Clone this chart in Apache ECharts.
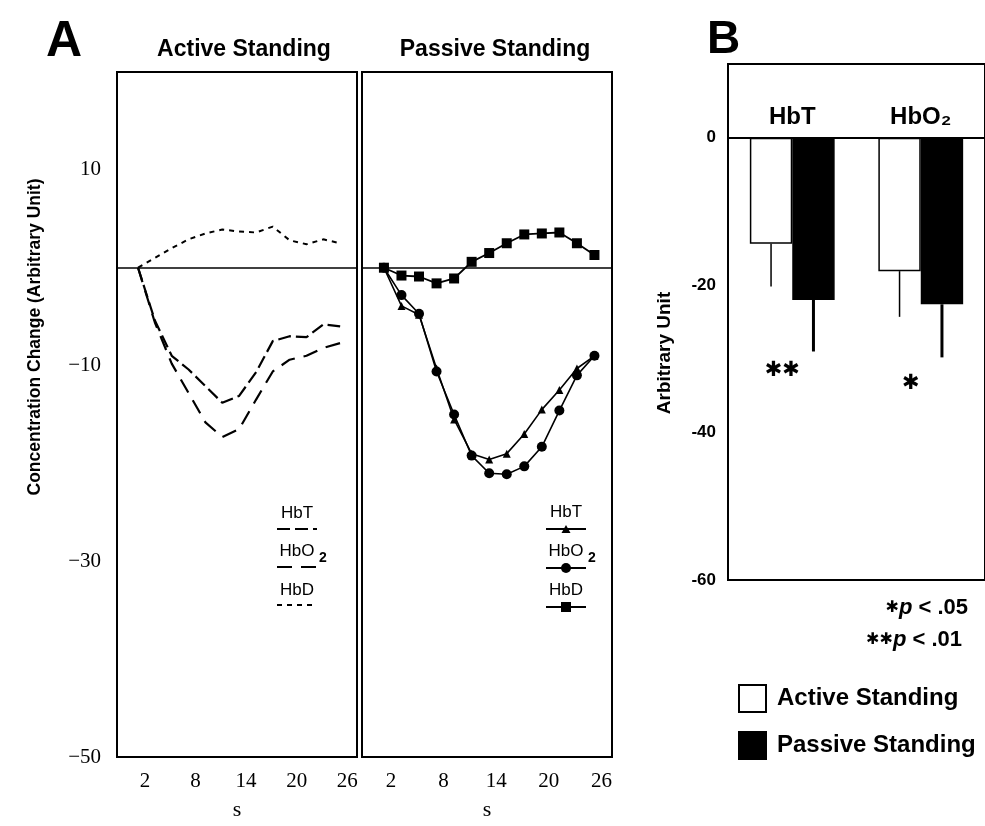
<!DOCTYPE html>
<html><head><meta charset="utf-8">
<script src="https://cdn.jsdelivr.net/npm/echarts@6/dist/echarts.min.js"></script>
<style>html,body{margin:0;padding:0;background:#fff}#c{width:985px;height:826px}</style>
</head><body><div id="c"></div>
<script>
// ---- data ----
const timeS = [2, 4, 6, 8, 10, 12, 14, 16, 18, 20, 22, 24, 26];
const activeHbT  = [0, -5.4, -9.0, -10.4, -12.1, -13.8, -13.1, -10.7, -7.5, -7.0, -7.1, -5.8, -6.0];
const activeHbO2 = [0, -5.6, -9.8, -12.8, -15.8, -17.3, -16.5, -13.5, -10.6, -9.4, -9.0, -8.2, -7.7];
const activeHbD  = [0, 1.0, 2.0, 2.9, 3.5, 3.9, 3.7, 3.6, 4.2, 2.8, 2.4, 2.9, 2.5];
const passiveHbT  = [0, -3.9, -4.8, -10.3, -15.5, -19.0, -19.6, -19.0, -17.0, -14.5, -12.5, -10.3, -9.0];
const passiveHbO2 = [0, -2.8, -4.7, -10.6, -15.0, -19.2, -21.0, -21.1, -20.3, -18.3, -14.6, -11.0, -9.0];
const passiveHbD  = [0, -0.8, -0.9, -1.6, -1.1, 0.6, 1.5, 2.5, 3.4, 3.5, 3.6, 2.5, 1.3];
const xTickLabels = [2, 8, 14, 20, 26];
const yTickLabelsA = [10, -10, -30, -50];
const yTickLabelsB = [0, -20, -40, -60];
const barCategories = ['HbT', 'HbO₂'];
const activeMean = [-14.4, -18.1];
const activeSD = [5.8, 6.2];
const passiveMean = [-22.0, -22.6];
const passiveSD = [7.0, 7.2];
const sigMarks = ['✱✱', '✱'];
const sigLevel = [-31.6, -33.3];
const headerLevel = [2.8, 2.8];

// ---- styles ----
const SANS = 'Liberation Sans';
const SERIF = 'Liberation Serif';
const dashHbT = [13, 5];
const dashHbO2 = [15, 9];
const dashHbD = [5, 5];
const zip = (xs, ys) => xs.map((x, i) => [x, ys[i]]);
const minus = v => (v < 0 ? '\u2212' + Math.abs(v) : String(v));

const zeroLine = {
  silent: true, symbol: 'none', label: {show: false},
  lineStyle: {type: 'solid', color: '#000', width: 1.6},
  data: [{yAxis: 0}]
};

function xAxisA(idx) {
  return {
    type: 'value', gridIndex: idx, min: -0.5, max: 28,
    axisLine: {show: false}, axisTick: {show: false}, splitLine: {show: false},
    axisLabel: {customValues: xTickLabels, color: '#000', fontFamily: SERIF, fontSize: 21, margin: 14, padding: [0, 0, 0, 14]},
    name: 's', nameLocation: 'middle', nameGap: 42, nameMoveOverlap: false,
    nameTextStyle: {color: '#000', fontFamily: SERIF, fontSize: 22}
  };
}
function yAxisA(idx, labels) {
  return {
    type: 'value', gridIndex: idx, min: -50, max: 20,
    axisLine: {show: false}, axisTick: {show: false}, splitLine: {show: false},
    axisLabel: {show: labels, customValues: yTickLabelsA, formatter: minus, color: '#000', fontFamily: SERIF, fontSize: 21, margin: 16}
  };
}

const errRender = (sign, width) => (params, api) => {
  const c = api.value(0), m = api.value(1), sd = api.value(2);
  const p0 = api.coord([c, m]);
  const p1 = api.coord([c, m - sd]);
  const band = api.size([1, 0])[0];
  const off = sign * band * 0.165;
  return {type: 'line', shape: {x1: p0[0] + off, y1: p0[1], x2: p1[0] + off, y2: p1[1]},
          style: {stroke: '#000', lineWidth: width}};
};

// legend graphics for panel A
function legendText(x, y, t, sub) {
  const els = [{type: 'text', x: x, y: y, style: {text: t, fill: '#000', font: '17px ' + SANS, align: 'center', verticalAlign: 'middle'}}];
  if (sub) els.push({type: 'text', x: x + 26, y: y + 7, style: {text: '2', fill: '#000', font: 'bold 14px ' + SANS, align: 'center', verticalAlign: 'middle'}});
  return els;
}
function legendLine(x, y, dash, w) {
  return {type: 'line', shape: {x1: x - 20, y1: y, x2: x + 20, y2: y}, style: {stroke: '#000', lineWidth: w || 2.2, lineDash: dash || null}};
}
const gA = [];
gA.push(...legendText(297, 513, 'HbT'), legendLine(297, 529, dashHbT));
gA.push(...legendText(297, 551, 'HbO', true), legendLine(297, 567, dashHbO2));
gA.push(...legendText(297, 590, 'HbD'), legendLine(297, 605, dashHbD));
gA.push(...legendText(566, 512, 'HbT'), legendLine(566, 529, null, 2));
gA.push({type: 'polygon', shape: {points: [[566, 525], [561.5, 533], [570.5, 533]]}, style: {fill: '#000'}});
gA.push(...legendText(566, 551, 'HbO', true), legendLine(566, 568, null, 2));
gA.push({type: 'circle', shape: {cx: 566, cy: 568, r: 5}, style: {fill: '#000'}});
gA.push(...legendText(566, 590, 'HbD'), legendLine(566, 607, null, 2));
gA.push({type: 'rect', shape: {x: 561, y: 602, width: 10, height: 10}, style: {fill: '#000'}});

const pRich = {
  a: {fontSize: 16, fontFamily: 'DejaVu Sans', fontWeight: 'bold', fill: '#000'},
  p: {fontSize: 22, fontStyle: 'italic', fontWeight: 'bold', fontFamily: SANS, fill: '#000'}
};

const chart = echarts.init(document.getElementById('c'), null, {renderer: 'canvas'});
chart.setOption({
  backgroundColor: '#fff',
  animation: false,
  title: [
    {text: 'A', left: 41, top: 12, textStyle: {fontSize: 50, fontWeight: 'bold', fontFamily: SANS, color: '#000'}},
    {text: 'Active Standing', left: 239, top: 33, textAlign: 'center', textStyle: {fontSize: 23, fontWeight: 'bold', fontFamily: SANS, color: '#000'}},
    {text: 'Passive Standing', left: 490, top: 33, textAlign: 'center', textStyle: {fontSize: 23, fontWeight: 'bold', fontFamily: SANS, color: '#000'}},
    {text: 'B', left: 702, top: 12, textStyle: {fontSize: 46, fontWeight: 'bold', fontFamily: SANS, color: '#000'}}
  ],
  grid: [
    {left: 117, top: 72, width: 240, height: 686, show: true, borderColor: '#000', borderWidth: 2, backgroundColor: 'transparent'},
    {left: 362, top: 72, width: 250, height: 686, show: true, borderColor: '#000', borderWidth: 2, backgroundColor: 'transparent'},
    {left: 728, top: 64, width: 264, height: 516, show: true, borderColor: '#000', borderWidth: 2, backgroundColor: 'transparent'}
  ],
  xAxis: [
    xAxisA(0), xAxisA(1),
    {type: 'category', gridIndex: 2, data: barCategories,
     axisLine: {onZero: true, lineStyle: {color: '#000', width: 2}}, axisTick: {show: false}, axisLabel: {show: false}}
  ],
  yAxis: [
    yAxisA(0, true), yAxisA(1, false),
    {type: 'value', gridIndex: 2, min: -60, max: 10, interval: 20,
     axisLine: {show: false}, axisTick: {show: false}, splitLine: {show: false},
     axisLabel: {customValues: yTickLabelsB, color: '#000', fontFamily: SANS, fontWeight: 'bold', fontSize: 17, margin: 12}}
  ],
  legend: {
    data: ['Active Standing', 'Passive Standing'], orient: 'vertical', left: 733, top: 679,
    itemWidth: 27, itemHeight: 27, itemGap: 18, icon: 'rect',
    textStyle: {fontSize: 24, fontWeight: 'bold', fontFamily: SANS, color: '#000', padding: [0, 0, 0, 6]}
  },
  graphic: [
    {type: 'text', x: 35, y: 337, rotation: Math.PI / 2,
     style: {text: 'Concentration Change (Arbitrary Unit)', fill: '#000', font: 'bold 17.5px ' + SANS, align: 'center', verticalAlign: 'middle'}},
    {type: 'text', x: 665, y: 353, rotation: Math.PI / 2,
     style: {text: 'Arbitrary Unit', fill: '#000', font: 'bold 19px ' + SANS, align: 'center', verticalAlign: 'middle'}},
    {type: 'text', x: 968, y: 608,
     style: {text: '{a|✱}{p|p} < .05', align: 'right', verticalAlign: 'middle', fill: '#000', rich: pRich, font: 'bold 22px ' + SANS}},
    {type: 'text', x: 962, y: 640,
     style: {text: '{a|✱✱}{p|p} < .01', align: 'right', verticalAlign: 'middle', fill: '#000', rich: pRich, font: 'bold 22px ' + SANS}},
    ...gA
  ],
  series: [
    {name: 'HbT A', type: 'line', xAxisIndex: 0, yAxisIndex: 0, data: zip(timeS, activeHbT), symbol: 'none',
     lineStyle: {color: '#000', width: 2.2, type: dashHbT}, markLine: zeroLine},
    {name: 'HbO2 A', type: 'line', xAxisIndex: 0, yAxisIndex: 0, data: zip(timeS, activeHbO2), symbol: 'none',
     lineStyle: {color: '#000', width: 2.2, type: dashHbO2}},
    {name: 'HbD A', type: 'line', xAxisIndex: 0, yAxisIndex: 0, data: zip(timeS, activeHbD), symbol: 'none',
     lineStyle: {color: '#000', width: 2, type: dashHbD}},
    {name: 'HbT P', type: 'line', xAxisIndex: 1, yAxisIndex: 1, data: zip(timeS, passiveHbT), symbol: 'triangle', symbolSize: 8,
     itemStyle: {color: '#000'}, lineStyle: {color: '#000', width: 1.6}, markLine: zeroLine},
    {name: 'HbO2 P', type: 'line', xAxisIndex: 1, yAxisIndex: 1, data: zip(timeS, passiveHbO2), symbol: 'circle', symbolSize: 10,
     itemStyle: {color: '#000'}, lineStyle: {color: '#000', width: 1.6}},
    {name: 'HbD P', type: 'line', xAxisIndex: 1, yAxisIndex: 1, data: zip(timeS, passiveHbD), symbol: 'rect', symbolSize: 10,
     itemStyle: {color: '#000'}, lineStyle: {color: '#000', width: 1.8}},
    {name: 'Active Standing', type: 'bar', xAxisIndex: 2, yAxisIndex: 2, data: activeMean, barWidth: '33%', barGap: '0%',
     itemStyle: {color: '#fff', borderColor: '#000', borderWidth: 1.5}},
    {name: 'Passive Standing', type: 'bar', xAxisIndex: 2, yAxisIndex: 2, data: passiveMean, barWidth: '33%', barGap: '0%',
     itemStyle: {color: '#000', borderColor: '#000', borderWidth: 1.5}},
    {type: 'custom', xAxisIndex: 2, yAxisIndex: 2, data: activeMean.map((m, i) => [i, m, activeSD[i]]),
     renderItem: errRender(-1, 1.5), z: 5},
    {type: 'custom', xAxisIndex: 2, yAxisIndex: 2, data: passiveMean.map((m, i) => [i, m, passiveSD[i]]),
     renderItem: errRender(1, 3), z: 5},
    {type: 'scatter', xAxisIndex: 2, yAxisIndex: 2, data: sigLevel.map((v, i) => [i, v]), symbolSize: 0,
     itemStyle: {opacity: 1},
     label: {show: true, position: 'inside', offset: [-10, 0], formatter: p => sigMarks[p.dataIndex],
       fontFamily: 'DejaVu Sans', fontWeight: 'bold', fontSize: 21, color: '#000', opacity: 1}},
    {type: 'scatter', xAxisIndex: 2, yAxisIndex: 2, data: headerLevel.map((v, i) => [i, v]), symbolSize: 0,
     itemStyle: {opacity: 1},
     label: {show: true, position: 'inside', formatter: p => barCategories[p.dataIndex],
       fontFamily: SANS, fontWeight: 'bold', fontSize: 24, color: '#000', opacity: 1}}
  ]
});
</script>
</body></html>
